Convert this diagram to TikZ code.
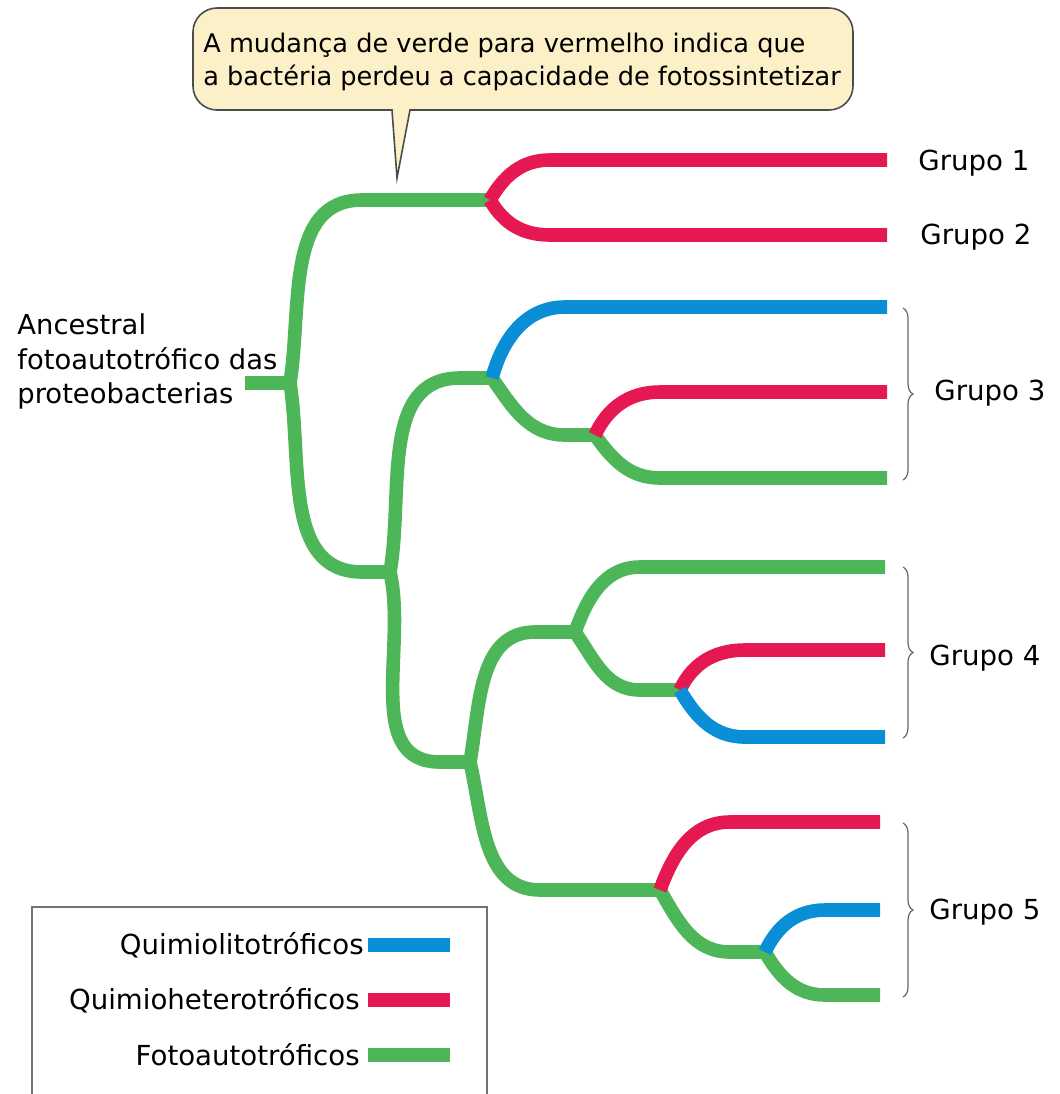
\documentclass[tikz,border=0pt]{standalone}
\usepackage{fontspec}
\setmainfont{DejaVu Sans}
\usetikzlibrary{decorations.pathreplacing}
\definecolor{foto}{HTML}{4DB658}
\definecolor{hetero}{HTML}{E61852}
\definecolor{lito}{HTML}{0A8FD6}
\definecolor{balloon}{HTML}{FCF0C8}
\begin{document}
\begin{tikzpicture}[x=0.5pt,y=0.5pt,
  branch/.style={line width=6.8pt},
  fa/.style={branch,color=foto},
  qh/.style={branch,color=hetero},
  ql/.style={branch,color=lito},
  lbl/.style={font=\fontsize{13.8}{16}\selectfont,anchor=west,inner sep=0pt},
  legtxt/.style={font=\fontsize{13.8}{16}\selectfont,anchor=east,inner sep=0pt},
  grpbrace/.style={draw=black!60,line width=0.6pt,decorate,decoration={brace,amplitude=5pt}},
  swatch/.style={line width=7pt}]
\useasboundingbox (0,0) rectangle (1060,-1094);

% ---- junctions ----
\coordinate (r0) at (245,-383);
\coordinate (R) at (290,-383);
\coordinate (A) at (490,-200);
\coordinate (B) at (390,-572);
\coordinate (C) at (492,-378);
\coordinate (D) at (595,-435);
\coordinate (E) at (470,-762);
\coordinate (F) at (575,-632);
\coordinate (G) at (680,-690);
\coordinate (H) at (660,-890);
\coordinate (I) at (765,-952);

% ---- bends and tips ----
\coordinate (bAu) at (550,-160); \coordinate (t1) at (887,-160);
\coordinate (bAd) at (550,-235); \coordinate (t2) at (887,-235);
\coordinate (bRu) at (362,-200);
\coordinate (bRd) at (362,-572);
\coordinate (bBu) at (460,-378);
\coordinate (bBd) at (440,-762);
\coordinate (bCu) at (565,-307); \coordinate (t3) at (887,-307);
\coordinate (bCd) at (565,-435);
\coordinate (bDu) at (660,-392); \coordinate (t4) at (887,-392);
\coordinate (bDd) at (660,-478); \coordinate (t5) at (887,-478);
\coordinate (bEu) at (535,-632);
\coordinate (bEd) at (540,-890);
\coordinate (bFu) at (640,-567); \coordinate (t6) at (885,-567);
\coordinate (bFd) at (640,-690);
\coordinate (bGu) at (745,-650); \coordinate (t7) at (885,-650);
\coordinate (bGd) at (745,-737); \coordinate (t8) at (885,-737);
\coordinate (bHu) at (730,-822); \coordinate (t9) at (880,-822);
\coordinate (bHd) at (730,-952);
\coordinate (bIu) at (825,-910); \coordinate (t10) at (880,-910);
\coordinate (bId) at (825,-995); \coordinate (t11) at (880,-995);

% ---- green backbone ----
\draw[fa] (r0) -- (R);
\draw[fa] (R) to[out=81,in=180] (bRu) -- (A);
\draw[fa] (R) to[out=-81,in=180] (bRd) -- (B);
\draw[fa] (B) to[out=80,in=180] (bBu) -- (C);
\draw[fa] (B) to[out=-77,in=180] (bBd) -- (E);
\draw[fa] (C) to[out=-55,in=180] (bCd) -- (D);
\draw[fa] (D) to[out=-55,in=180] (bDd) -- (t5);
\draw[fa] (E) to[out=80,in=180] (bEu) -- (F);
\draw[fa] (E) to[out=-77,in=180] (bEd) -- (H);
\draw[fa] (F) to[out=70,in=180] (bFu) -- (t6);
\draw[fa] (F) to[out=-55,in=180] (bFd) -- (G);
\draw[fa] (H) to[out=-60,in=180] (bHd) -- (I);
\draw[fa] (I) to[out=-60,in=180] (bId) -- (t11);

% ---- chemoheterotrophs ----
\draw[qh] (A) to[out=60,in=180] (bAu) -- (t1);
\draw[qh] (A) to[out=-60,in=180] (bAd) -- (t2);
\draw[qh] (D) to[out=65,in=180] (bDu) -- (t4);
\draw[qh] (G) to[out=65,in=180] (bGu) -- (t7);
\draw[qh] (H) to[out=70,in=180] (bHu) -- (t9);

% ---- chemolithotrophs ----
\draw[ql] (C) to[out=75,in=180] (bCu) -- (t3);
\draw[ql] (G) to[out=-60,in=180] (bGd) -- (t8);
\draw[ql] (I) to[out=65,in=180] (bIu) -- (t10);

% ---- group labels ----
\node[lbl] (g1) at (918,-163) {Grupo 1};
\node[lbl] (g2) at (920,-237) {Grupo 2};
\coordinate (k3a) at (903,-308); \coordinate (k3b) at (903,-480);
\coordinate (k4a) at (903,-567); \coordinate (k4b) at (903,-738);
\coordinate (k5a) at (903,-823); \coordinate (k5b) at (903,-997);
\draw[grpbrace] (k3a) -- (k3b);
\draw[grpbrace] (k4a) -- (k4b);
\draw[grpbrace] (k5a) -- (k5b);
\node[lbl] (g3) at (934,-393) {Grupo 3};
\node[lbl] (g4) at (929,-658) {Grupo 4};
\node[lbl] (g5) at (929,-912) {Grupo 5};

% ---- root label ----
\node[font=\fontsize{13.7}{17.4}\selectfont,align=left,anchor=north west,inner sep=0pt] (anc) at (17,-313)
  {Ancestral\\fotoautotrófico das\\proteobacterias};

% ---- callout ----
\draw[draw=black!70,line width=0.8pt,fill=balloon]
  (392,-110) [rounded corners=12] -- (193,-110) -- (193,-8) -- (853,-8) -- (853,-110)
  -- (600,-110) [sharp corners] -- (410,-110) -- (397,-178) -- cycle;
\node[font=\fontsize{12.8}{16.5}\selectfont,align=left,anchor=north west,inner sep=0pt] (note) at (203,-33)
  {A mudança de verde para vermelho indica que\\a bactéria perdeu a capacidade de fotossintetizar};

% ---- legend ----
\draw[draw=black!55,line width=1pt] (32,-1100) -- (32,-907) -- (487,-907) -- (487,-1100);
\coordinate (s1a) at (368,-945); \coordinate (s1b) at (450,-945);
\coordinate (s2a) at (368,-1000); \coordinate (s2b) at (450,-1000);
\coordinate (s3a) at (368,-1055); \coordinate (s3b) at (450,-1055);
\draw[swatch,lito] (s1a) -- (s1b);
\draw[swatch,hetero] (s2a) -- (s2b);
\draw[swatch,foto] (s3a) -- (s3b);
\node[legtxt] (l1) at (364,-945) {Quimiolitotróficos};
\node[legtxt] (l2) at (360,-1000) {Quimioheterotróficos};
\node[legtxt] (l3) at (360,-1055) {Fotoautotróficos};
\end{tikzpicture}
\end{document}
